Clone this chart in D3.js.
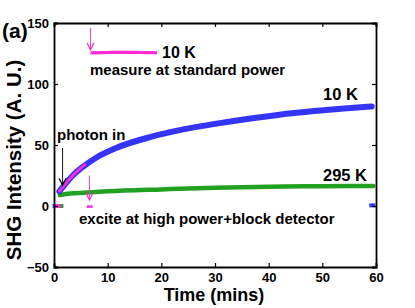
<!DOCTYPE html>
<html>
<head>
<meta charset="utf-8">
<script src="https://cdn.jsdelivr.net/npm/d3@7"></script>
<style>
  body { margin: 0; background: #fff; }
  svg { display: block; font-family: "Liberation Sans", Arial, sans-serif; font-weight: bold; }
</style>
</head>
<body>
<div id="chart"></div>
<script>
// tick values
var xTicks = [0, 10, 20, 30, 40, 50, 60];
var yTicks = [-50, 0, 50, 100, 150];

// 10 K, excited at high power (blue)
var blueT = [1.0, 2.0, 3.5, 5.5, 8.0, 11.7, 17.9, 24.1, 30.3, 36, 42, 48, 54, 59.2];
var blueV = [12, 17.5, 25, 32.5, 40, 47.8, 56.5, 62.8, 67.5, 71.3, 74.8, 77.6, 79.9, 81.6];

// 295 K (green)
var greenT = [1.1, 3.0, 5.5, 10, 20, 30, 40, 50, 59.5];
var greenV = [9, 10.2, 10.9, 12, 13.6, 15.0, 15.8, 16.2, 16.4];

// 10 K, measured at standard power (magenta)
var magT = [1.0, 1.7, 3.6, 5.8];
var magV = [12, 15.8, 25.4, 34];
var magTopT = [6.8, 10, 13, 16, 19.2];
var magTopV = [125.5, 125.8, 126, 125.8, 125.6];
var magDashT = [6.1, 7.2];
var magDashV = [-0.5, -0.5];

// points sitting at zero before/after the run
var zeroPts = [
  {t: 0.3, v: 0, c: "blue"}, {t: 1.2, v: 0, c: "green"}, {t: 0.7, v: 0, c: "magenta"},
  {t: 59.3, v: 0.5, c: "blue"}
];

// arrows: [t, from, to]
var photonArrow = [1.6, 47.5, 17];
var exciteArrow = [6.6, 25, 5];
var measureArrow = [6.8, 146, 128];

var W = 415, H = 308;
var svg = d3.select("#chart").append("svg").attr("width", W).attr("height", H);

var x = d3.scaleLinear().domain([0, 60]).range([54, 376]);
var y = d3.scaleLinear().domain([-50, 150]).range([267, 23]);

var colors = {blue: "#3535fa", green: "#22a022", magenta: "#ff2bd2"};

var line = d3.line().curve(d3.curveMonotoneX);

function pts(ts, vs) { return ts.map(function(t, i) { return [x(t), y(vs[i])]; }); }

// data bands
svg.append("path").attr("d", line(pts(greenT, greenV)))
  .attr("fill", "none").attr("stroke", colors.green).attr("stroke-width", 4.5).attr("stroke-linecap", "round");
svg.append("path").attr("d", line(pts(blueT, blueV)))
  .attr("fill", "none").attr("stroke", colors.blue).attr("stroke-width", 6).attr("stroke-linecap", "round");
svg.append("path").attr("d", line(pts(magT, magV)))
  .attr("fill", "none").attr("stroke", colors.magenta).attr("stroke-width", 2.6).attr("stroke-linecap", "round");
svg.append("path").attr("d", line(pts(magTopT, magTopV)))
  .attr("fill", "none").attr("stroke", colors.magenta).attr("stroke-width", 3.2);
svg.append("path").attr("d", line(pts(magDashT, magDashV)))
  .attr("fill", "none").attr("stroke", colors.magenta).attr("stroke-width", 2.5);

svg.selectAll(".zero").data(zeroPts).enter().append("rect")
  .attr("x", function(d) { return x(d.t) - 3; })
  .attr("y", function(d) { return y(d.v) - 2; })
  .attr("width", 6).attr("height", 4)
  .attr("fill", function(d) { return colors[d.c]; });

// arrows
function arrow(a, color) {
  var xa = x(a[0]), y0 = y(a[1]), y1 = y(a[2]);
  svg.append("line").attr("x1", xa).attr("x2", xa).attr("y1", y0).attr("y2", y1)
    .attr("stroke", color).attr("stroke-width", 0.9);
  svg.append("path").attr("d", "M" + (xa - 3.5) + "," + (y1 - 7) + "L" + xa + "," + y1 + "L" + (xa + 3.5) + "," + (y1 - 7))
    .attr("fill", "none").attr("stroke", color).attr("stroke-width", 1.2);
}
arrow(photonArrow, "#000");
arrow(exciteArrow, colors.magenta);
arrow(measureArrow, colors.magenta);

// axes box
var g = svg.append("g");
g.append("g").attr("transform", "translate(0,267)")
  .call(d3.axisBottom(x).tickValues(xTicks).tickSize(-4).tickPadding(6));
g.append("g").attr("transform", "translate(0,23)")
  .call(d3.axisTop(x).tickValues(xTicks).tickSize(-4).tickFormat(""));
g.append("g").attr("transform", "translate(54,0)")
  .call(d3.axisLeft(y).tickValues(yTicks).tickSize(-4).tickPadding(5));
g.append("g").attr("transform", "translate(376,0)")
  .call(d3.axisRight(y).tickValues(yTicks).tickSize(-4).tickFormat(""));
g.selectAll(".domain").attr("stroke", "#000").attr("stroke-width", 1.8);
g.selectAll(".tick line").attr("stroke", "#000").attr("stroke-width", 1.2);
g.selectAll("text").attr("font-size", 13).attr("font-family", "Liberation Sans, Arial, sans-serif")
  .attr("font-weight", "bold").attr("fill", "#000");

// axis titles
svg.append("text").attr("x", 214).attr("y", 301).attr("text-anchor", "middle")
  .attr("font-size", 18).text("Time (mins)");
svg.append("text").attr("transform", "translate(21,160) rotate(-90)").attr("text-anchor", "middle")
  .attr("font-size", 20.5).text("SHG Intensity (A. U.)");
svg.append("text").attr("x", 2).attr("y", 38).attr("font-size", 21).text("(a)");

// annotations
var notes = [
  {text: "10 K", x: 162, y: 58, size: 16},
  {text: "measure at standard power", x: 90, y: 75, size: 15},
  {text: "10 K", x: 323, y: 100, size: 16.5},
  {text: "295 K", x: 323, y: 181, size: 16.5},
  {text: "photon in", x: 57, y: 140, size: 15},
  {text: "excite at high power+block detector", x: 79, y: 224, size: 15}
];
svg.selectAll(".note").data(notes).enter().append("text")
  .attr("x", function(d) { return d.x; })
  .attr("y", function(d) { return d.y; })
  .attr("font-size", function(d) { return d.size; })
  .text(function(d) { return d.text; });
</script>
</body>
</html>
